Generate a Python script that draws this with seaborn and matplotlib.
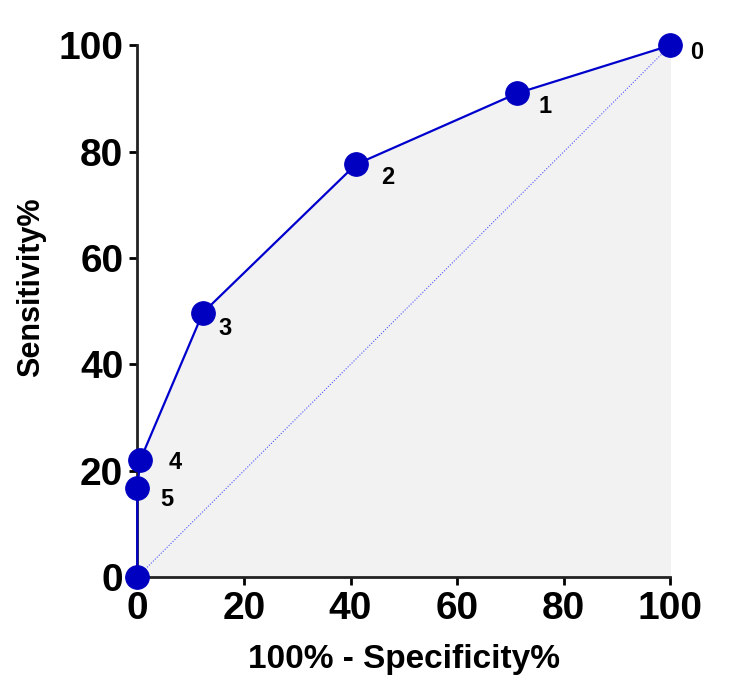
import numpy as np
import pandas as pd
import matplotlib
matplotlib.use('Agg')
import matplotlib.pyplot as plt
import seaborn as sns

# ROC points (threshold index, 100% - specificity, sensitivity)
labels = ['0', '1', '2', '3', '4', '5']
fpr = [100, 71.3, 41.0, 12.3, 0.6, 0.0]
sens = [100, 91.0, 77.6, 49.7, 22.1, 16.7]

# curve goes through the origin
curve_x = fpr + [0.0]
curve_y = sens + [0.0]

df = pd.DataFrame({'fpr': curve_x, 'sens': curve_y})

sns.set_style('ticks')
plt.rcParams['font.family'] = ['Liberation Sans', 'DejaVu Sans']
plt.rcParams['text.color'] = 'black'
plt.rcParams['xtick.color'] = 'black'
plt.rcParams['ytick.color'] = 'black'
plt.rcParams['axes.labelcolor'] = 'black'

fig = plt.figure(figsize=(7.5, 6.97), dpi=100)
ax = fig.add_axes([0.183, 0.172, 0.711, 0.763])

# shaded area under the curve
ax.fill_between(df['fpr'][::-1], df['sens'][::-1], 0, color='#f2f2f2', zorder=0, linewidth=0)

# chance line
ax.plot([0, 100], [0, 100], color='#5555ff', lw=0.8, ls=(0, (1, 1.5)), zorder=1)

sns.lineplot(data=df, x='fpr', y='sens', sort=False, estimator=None, color='#0000cc',
             linewidth=1.6, marker='o', markersize=17, markerfacecolor='#0000c0',
             markeredgecolor='#0000c0', ax=ax, zorder=3)
for line in ax.lines:
    line.set_clip_on(False)

offsets = [(18.5, -5), (19.7, -9.6), (22.8, -9.6), (16.3, -11.2), (25, -2), (21.6, -8)]
for lab, x, y, off in zip(labels, fpr, sens, offsets):
    ax.annotate(lab, (x, y), xytext=off, textcoords='offset points',
                fontsize=17, fontweight='bold', ha='center', va='center')

ax.set_xlim(0, 100)
ax.set_ylim(0, 100)
ax.set_xticks([0, 20, 40, 60, 80, 100])
ax.set_yticks([0, 20, 40, 60, 80, 100])
ax.tick_params(axis='both', labelsize=28, width=2, length=6, direction='out', pad=4)
for t in ax.get_xticklabels() + ax.get_yticklabels():
    t.set_fontweight('bold')

ax.set_xlabel('100% - Specificity%', fontsize=24, fontweight='bold')
ax.set_ylabel('Sensitivity%', fontsize=22, fontweight='bold')
ax.xaxis.set_label_coords(0.5, -0.125)
ax.yaxis.set_label_coords(-0.17, 0.545)

sns.despine(ax=ax)
for s in ['left', 'bottom']:
    ax.spines[s].set_linewidth(2)
    ax.spines[s].set_color('#222222')

fig.savefig('out.png', dpi=100)
